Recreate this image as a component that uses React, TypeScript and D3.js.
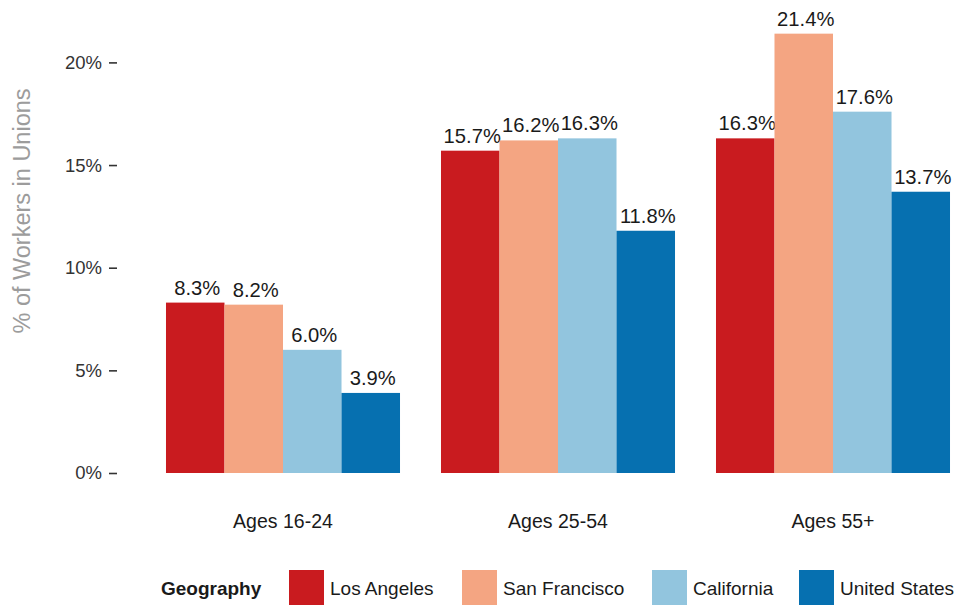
import React from "react";
import * as d3 from "d3";

const groups = ["Ages 16-24", "Ages 25-54", "Ages 55+"];
const geographies = ["Los Angeles", "San Francisco", "California", "United States"];
const losAngeles = [8.3, 15.7, 16.3];
const sanFrancisco = [8.2, 16.2, 21.4];
const california = [6.0, 16.3, 17.6];
const unitedStates = [3.9, 11.8, 13.7];
const yTicks = [0, 5, 10, 15, 20];
const colors = ["#c91b1f", "#f4a582", "#92c5de", "#0670b0"];

const W = 961;
const H = 606;
const FONT = "'Liberation Sans', Arial, Helvetica, sans-serif";

export default function App() {
  const seriesValues = [losAngeles, sanFrancisco, california, unitedStates];

  const x0 = d3
    .scaleBand<string>()
    .domain(groups)
    .range([145.5, 970.5])
    .paddingInner(0.149)
    .paddingOuter(0.0745);
  const x1 = d3
    .scaleBand<string>()
    .domain(geographies)
    .range([0, x0.bandwidth()])
    .padding(0);
  const y = d3.scaleLinear().domain([0, 20]).range([473, 62.4]);

  return (
    <svg
      width={W}
      height={H}
      style={{ position: "absolute", left: 0, top: 0, background: "#fff" }}
      fontFamily={FONT}
    >
      <rect x={0} y={0} width={W} height={H} fill="#fff" />
      {/* y axis title */}
      <text
        transform={`translate(30,211) rotate(-90)`}
        textAnchor="middle"
        fontSize={23.5}
        fill="#9c9c9c"
      >
        % of Workers in Unions
      </text>
      {/* y ticks */}
      {yTicks.map((t) => (
        <g key={t} transform={`translate(0,${y(t)})`}>
          <text x={102} dy="0.35em" textAnchor="end" fontSize={18.5} fill="#333333">
            {t}%
          </text>
          <line x1={109} x2={117} y1={0.5} y2={0.5} stroke="#333333" strokeWidth={1.6} />
        </g>
      ))}
      {/* bars */}
      {groups.map((g, gi) => (
        <g key={g} transform={`translate(${x0(g)},0)`}>
          {geographies.map((geo, si) => {
            const v = seriesValues[si][gi];
            const bx = x1(geo)!;
            return (
              <g key={geo}>
                <rect
                  x={bx}
                  y={y(v)}
                  width={x1.bandwidth()}
                  height={y(0) - y(v)}
                  fill={colors[si]}
                />
                <text
                  x={bx + x1.bandwidth() / 2 + 2}
                  y={y(v) - 8}
                  textAnchor="middle"
                  fontSize={20.2}
                  fill="#1a1a1a"
                >
                  {v.toFixed(1)}%
                </text>
              </g>
            );
          })}
          <text
            x={x0.bandwidth() / 2}
            y={528}
            textAnchor="middle"
            fontSize={19.5}
            fill="#1a1a1a"
          >
            {g}
          </text>
        </g>
      ))}
      {/* legend */}
      <text x={161} y={594.5} fontSize={19} fontWeight="bold" fill="#1a1a1a">
        Geography
      </text>
      {geographies.map((geo, i) => {
        const lx = [289, 462, 652, 799][i];
        return (
          <g key={geo}>
            <rect x={lx} y={570} width={35} height={35} fill={colors[i]} />
            <text x={lx + 41} y={594.5} fontSize={19} fill="#1a1a1a">
              {geo}
            </text>
          </g>
        );
      })}
    </svg>
  );
}
